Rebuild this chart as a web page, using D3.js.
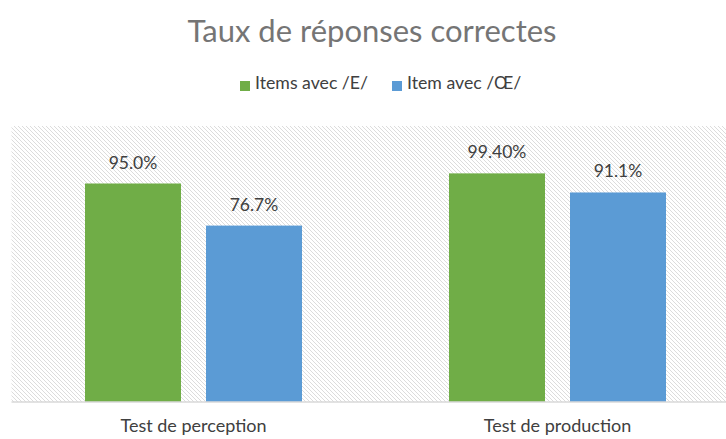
<!DOCTYPE html>
<html><head><meta charset="utf-8">
<script src="https://cdn.jsdelivr.net/npm/d3@7"></script>
<style>body{margin:0;background:#fff}svg{display:block}</style>
</head><body>
<svg id="c" width="726" height="439"></svg>
<script>
const categories = ["Test de perception", "Test de production"];
const seriesNames = ["Items avec /E/", "Item avec /Œ/"];
const valuesE = [95.0, 99.4];
const valuesOE = [76.7, 91.1];
const labelsE = ["95.0%", "99.40%"];
const labelsOE = ["76.7%", "91.1%"];
const colors = ["#70AD47", "#5B9BD5"];

const font = "Lato, 'Open Sans', sans-serif";
const svg = d3.select("#c");
const plot = {left: 11.5, right: 739.5, top: 126, bottom: 402};

const defs = svg.append("defs");
const pat = defs.append("pattern").attr("id","hatch").attr("patternUnits","userSpaceOnUse")
  .attr("width",4).attr("height",4);
pat.append("rect").attr("width",4).attr("height",4).attr("fill","#fff");
pat.append("path").attr("d","M-1,-1 L5,5 M-1,3 L1,5 M3,-1 L5,1").attr("stroke","#dcdcdc").attr("stroke-width",1);

svg.append("rect").attr("x",plot.left).attr("y",plot.top)
  .attr("width",plot.right-plot.left).attr("height",plot.bottom-plot.top)
  .attr("fill","url(#hatch)");

const x0 = d3.scaleBand().domain(categories).range([plot.left, plot.right]);
const x1 = d3.scaleBand().domain(seriesNames).range([0, 217]).paddingInner(25/121);
const y = d3.scaleLinear().domain([0,120]).range([plot.bottom, plot.top]);

const data = categories.map((c,i)=>({cat:c, vals:[
  {s:seriesNames[0], v:valuesE[i], l:labelsE[i], c:colors[0]},
  {s:seriesNames[1], v:valuesOE[i], l:labelsOE[i], c:colors[1]}]}));

const grp = svg.append("g").selectAll("g.grp").data(data).join("g")
  .attr("transform", d=>`translate(${x0(d.cat)+(x0.bandwidth()-217)/2},0)`);
grp.selectAll("rect").data(d=>d.vals).join("rect")
  .attr("x", d=>x1(d.s)).attr("width", x1.bandwidth())
  .attr("y", d=>y(d.v)).attr("height", d=>y(0)-y(d.v)).attr("fill", d=>d.c);
grp.selectAll("text").data(d=>d.vals).join("text")
  .attr("x", d=>x1(d.s)+x1.bandwidth()/2).attr("y", d=>y(d.v)-15)
  .attr("text-anchor","middle").attr("font-family",font).attr("font-size",17.5)
  .attr("fill","#404040").text(d=>d.l);

svg.append("line").attr("x1",plot.left).attr("x2",plot.right).attr("y1",plot.bottom).attr("y2",plot.bottom)
  .attr("stroke","#d9d9d9").attr("stroke-width",1.5);

const xAxis = svg.append("g").attr("transform",`translate(0,${plot.bottom})`)
  .call(d3.axisBottom(x0).tickSize(0));
xAxis.select(".domain").remove();
xAxis.selectAll("text").attr("y",30).attr("dy",0).attr("font-family",font).attr("font-size",18).attr("fill","#404040");

svg.append("text").attr("x",372).attr("y",42).attr("text-anchor","middle")
  .attr("font-family",font).attr("font-size",31).attr("fill","#757575").text("Taux de réponses correctes");

const legX = [240, 392];
seriesNames.forEach((s,i)=>{
  svg.append("rect").attr("x",legX[i]).attr("y",81).attr("width",10).attr("height",10).attr("fill",colors[i]);
  svg.append("text").attr("x",legX[i]+15).attr("y",89).attr("font-family",font).attr("font-size",17.7)
    .attr("fill","#404040").text(s);
});
</script>
</body></html>
